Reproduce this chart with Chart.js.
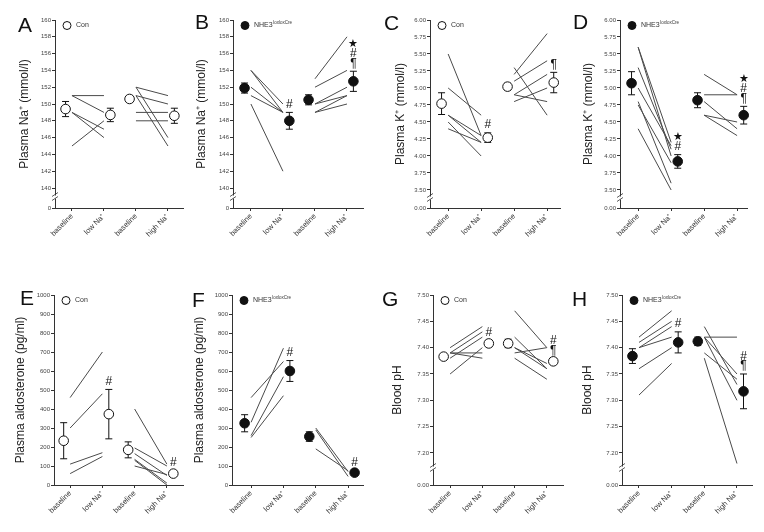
<!DOCTYPE html>
<html>
<head>
<meta charset="utf-8">
<script src="https://cdn.jsdelivr.net/npm/chart.js@4.4.0/dist/chart.umd.min.js"></script>
<style>
  body { margin: 0; background: #fff; }
  #wrap { position: relative; width: 764px; height: 532px; overflow: hidden; }
  canvas { position: absolute; }
</style>
</head>
<body>
<div id="wrap"></div>
<script>
var FONT = "'Liberation Sans', Arial, Helvetica, sans-serif";

var categories = ['baseline', 'low Na\u207A', 'baseline', 'high Na\u207A'];
var naTicks = ['140', '142', '144', '146', '148', '150', '152', '154', '156', '158', '160'];
var kTicks = ['3.50', '3.75', '4.00', '4.25', '4.50', '4.75', '5.00', '5.25', '5.50', '5.75', '6.00'];
var aldoTicks = ['0', '100', '200', '300', '400', '500', '600', '700', '800', '900', '1000'];
var phTicks = ['7.20', '7.25', '7.30', '7.35', '7.40', '7.45', '7.50'];

// A - plasma Na+, Con
var naConLow = [[151, 151], [151, 149], [149, 147], [149, 146], [145, 148]];
var naConHigh = [[152, 151], [151, 150], [152, 146], [151, 145], [149, 149], [148, 148]];
var naConMean = [149.4, 148.7, 150.6, 148.6];
var naConSem = [0.9, 0.8, 0.4, 0.9];
var naConSig = ['', '', '', ''];

// B - plasma Na+, NHE3 loxloxCre
var naKoLow = [[154, 150], [154, 149], [152, 149], [151, 149], [150, 142]];
var naKoHigh = [[153, 158], [152, 154], [150, 152], [150, 151], [149, 151], [149, 150]];
var naKoMean = [151.9, 148.0, 150.5, 152.7];
var naKoSem = [0.6, 1.0, 0.6, 1.2];
var naKoSig = ['', '#', '', '¶#★'];

// C - plasma K+, Con
var kConLow = [[5.5, 4.3], [5.0, 4.6], [4.6, 4.3], [4.6, 4.2], [4.5, 4.0], [4.4, 4.2]];
var kConHigh = [[5.2, 5.8], [5.3, 4.6], [5.1, 5.4], [4.9, 5.2], [4.9, 4.8], [4.8, 5.0]];
var kConMean = [4.77, 4.27, 5.02, 5.08];
var kConSem = [0.16, 0.07, 0.05, 0.15];
var kConSig = ['', '#', '', '¶'];

// D - plasma K+, NHE3 loxloxCre
var kKoLow = [[5.6, 4.2], [5.6, 4.0], [5.3, 4.1], [5.0, 4.15], [4.8, 3.6], [4.75, 3.9], [4.4, 3.5]];
var kKoHigh = [[5.2, 4.9], [4.9, 4.9], [4.8, 4.4], [4.6, 4.5], [4.6, 4.3]];
var kKoMean = [5.07, 3.92, 4.82, 4.60];
var kKoSem = [0.17, 0.10, 0.11, 0.13];
var kKoSig = ['', '#★', '', '¶#★'];

// E - plasma aldosterone, Con
var aldoConLow = [[460, 700], [300, 480], [110, 170], [60, 150]];
var aldoConHigh = [[400, 110], [195, 100], [165, 50], [135, 10], [130, 0], [100, 55]];
var aldoConMean = [233, 373, 185, 60];
var aldoConSem = [95, 130, 42, 15];
var aldoConSig = ['', '#', '', '#'];

// F - plasma aldosterone, NHE3 loxloxCre
var aldoKoLow = [[460, 650], [330, 720], [260, 570], [250, 470]];
var aldoKoHigh = [[300, 70], [290, 45], [190, 75]];
var aldoKoMean = [325, 600, 255, 65];
var aldoKoSem = [45, 55, 25, 8];
var aldoKoSig = ['', '#', '', '#'];

// G - blood pH, Con
var phConLow = [[7.40, 7.44], [7.39, 7.43], [7.38, 7.42], [7.39, 7.38], [7.35, 7.40], [7.39, 7.39]];
var phConHigh = [[7.47, 7.40], [7.42, 7.36], [7.40, 7.36], [7.39, 7.40], [7.40, 7.37], [7.38, 7.34]];
var phConMean = [7.383, 7.408, 7.408, 7.374];
var phConSem = [0.004, 0.006, 0.008, 0.006];
var phConSig = ['', '#', '', '¶#'];

// H - blood pH, NHE3 loxloxCre
var phKoLow = [[7.42, 7.47], [7.41, 7.45], [7.40, 7.44], [7.40, 7.42], [7.36, 7.40], [7.31, 7.37]];
var phKoHigh = [[7.42, 7.42], [7.44, 7.33], [7.42, 7.35], [7.42, 7.30], [7.39, 7.34], [7.38, 7.18]];
var phKoMean = [7.384, 7.41, 7.412, 7.317];
var phKoSem = [0.014, 0.02, 0.008, 0.033];
var phKoSig = ['', '#', '', '¶#'];

var meanShift = [-0.2, 0.2, -0.2, 0.2];

var panels = [
  { letter: 'A', left: 0, top: 0, w: 190, h: 260, pl: 17.8, yw: 37.2, pr: 7, pt: 20, xh: 52, xmin: 0.47, xmax: 4.47, lx: 18, ly: 32,
    title: 'Plasma Na\u207A (mmol/l)', ticks: naTicks, ymin: 137.62, ymax: 160, brk: '0', ko: false,
    low: naConLow, high: naConHigh, mean: naConMean, sem: naConSem, sig: naConSig },
  { letter: 'B', left: 190, top: 0, w: 190, h: 260, pl: 4.8, yw: 38.2, pr: 17, pt: 20, xh: 52, xmin: 0.44, xmax: 4.5, lx: 5, ly: 29,
    title: 'Plasma Na\u207A (mmol/l)', ticks: naTicks, ymin: 137.62, ymax: 160, brk: '0', ko: true,
    low: naKoLow, high: naKoHigh, mean: naKoMean, sem: naKoSem, sig: naKoSig },
  { letter: 'C', left: 380, top: 0, w: 190, h: 260, pl: 13.8, yw: 36.2, pr: 10, pt: 20, xh: 52, xmin: 0.45, xmax: 4.39, lx: 4, ly: 30,
    title: 'Plasma K\u207A (mmol/l)', ticks: kTicks, ymin: 3.235, ymax: 6, brk: '0.00', ko: false,
    low: kConLow, high: kConHigh, mean: kConMean, sem: kConSem, sig: kConSig },
  { letter: 'D', left: 570, top: 0, w: 194, h: 260, pl: 11.8, yw: 38.2, pr: 17, pt: 20, xh: 52, xmin: 0.45, xmax: 4.3, lx: 3, ly: 29,
    title: 'Plasma K\u207A (mmol/l)', ticks: kTicks, ymin: 3.235, ymax: 6, brk: '0.00', ko: true,
    low: kKoLow, high: kKoHigh, mean: kKoMean, sem: kKoSem, sig: kKoSig },
  { letter: 'E', left: 0, top: 260, w: 190, h: 272, pl: 13.8, yw: 40.2, pr: 7, pt: 35, xh: 47, xmin: 0.5, xmax: 4.5, lx: 20, ly: 45,
    title: 'Plasma aldosterone (pg/ml)', ticks: aldoTicks, ymin: 0, ymax: 1000, brk: null, ko: false,
    low: aldoConLow, high: aldoConHigh, mean: aldoConMean, sem: aldoConSem, sig: aldoConSig },
  { letter: 'F', left: 190, top: 260, w: 190, h: 272, pl: 2.8, yw: 39.2, pr: 17, pt: 35, xh: 47, xmin: 0.41, xmax: 4.46, lx: 2, ly: 47,
    title: 'Plasma aldosterone (pg/ml)', ticks: aldoTicks, ymin: 0, ymax: 1000, brk: null, ko: true,
    low: aldoKoLow, high: aldoKoHigh, mean: aldoKoMean, sem: aldoKoSem, sig: aldoKoSig },
  { letter: 'G', left: 380, top: 260, w: 190, h: 272, pl: 10.8, yw: 42.2, pr: 7, pt: 35, xh: 47, xmin: 0.47, xmax: 4.5, lx: 2, ly: 46,
    title: 'Blood pH', ticks: phTicks, ymin: 7.1392, ymax: 7.5, brk: '0.00', ko: false,
    low: phConLow, high: phConHigh, mean: phConMean, sem: phConSem, sig: phConSig },
  { letter: 'H', left: 570, top: 260, w: 194, h: 272, pl: 10.8, yw: 41.2, pr: 12, pt: 35, xh: 47, xmin: 0.48, xmax: 4.46, lx: 2, ly: 46,
    title: 'Blood pH', ticks: phTicks, ymin: 7.1392, ymax: 7.5, brk: '0.00', ko: true,
    low: phKoLow, high: phKoHigh, mean: phKoMean, sem: phKoSem, sig: phKoSig }
];

var wrap = document.getElementById('wrap');

function makePanel(p) {
  var canvas = document.createElement('canvas');
  canvas.width = p.w;
  canvas.height = p.h;
  canvas.style.left = p.left + 'px';
  canvas.style.top = p.top + 'px';
  wrap.appendChild(canvas);

  var labels = p.brk ? [p.brk].concat(p.ticks) : p.ticks;

  var datasets = [{
    data: p.mean.map(function (m, i) { return { x: i + 1 + meanShift[i], y: m }; }),
    showLine: false,
    pointRadius: 4.8,
    pointBackgroundColor: p.ko ? '#111' : '#fff',
    pointBorderColor: '#111',
    pointBorderWidth: 1,
    clip: false
  }];
  p.low.forEach(function (pair) {
    datasets.push({ data: [{ x: 1, y: pair[0] }, { x: 2, y: pair[1] }], borderColor: '#4a4a4a', borderWidth: 1, pointRadius: 0, clip: false });
  });
  p.high.forEach(function (pair) {
    datasets.push({ data: [{ x: 3, y: pair[0] }, { x: 4, y: pair[1] }], borderColor: '#4a4a4a', borderWidth: 1, pointRadius: 0, clip: false });
  });

  var extras = {
    id: 'extras',
    beforeDatasetsDraw: function (chart) {
      var ctx = chart.ctx, xs = chart.scales.x, ys = chart.scales.y;
      ctx.save();
      ctx.strokeStyle = '#111';
      ctx.lineWidth = 1;
      p.mean.forEach(function (m, i) {
        var x = xs.getPixelForValue(i + 1 + meanShift[i]);
        var yt = ys.getPixelForValue(m + p.sem[i]);
        var yb = ys.getPixelForValue(m - p.sem[i]);
        ctx.beginPath();
        ctx.moveTo(x, yt); ctx.lineTo(x, yb);
        ctx.moveTo(x - 3.5, yt); ctx.lineTo(x + 3.5, yt);
        ctx.moveTo(x - 3.5, yb); ctx.lineTo(x + 3.5, yb);
        ctx.stroke();
      });
      ctx.restore();
    },
    afterDraw: function (chart) {
      var ctx = chart.ctx, xs = chart.scales.x, ys = chart.scales.y, area = chart.chartArea;
      ctx.save();
      // significance symbols
      ctx.fillStyle = '#111';
      ctx.textAlign = 'center';
      ctx.textBaseline = 'middle';
      p.mean.forEach(function (m, i) {
        var x = xs.getPixelForValue(i + 1 + meanShift[i]);
        var yt = ys.getPixelForValue(m + p.sem[i]);
        Array.from(p.sig[i]).forEach(function (s, k) {
          ctx.font = (s === '★' ? '11px ' : '12px ') + FONT;
          ctx.fillText(s, x, yt - 8 - k * 9.5);
        });
      });
      // panel letter
      ctx.textAlign = 'left';
      ctx.textBaseline = 'alphabetic';
      ctx.font = '21px ' + FONT;
      ctx.fillText(p.letter, p.lx, p.ly);
      // legend
      var lx = area.left + 12, ly = area.top + 5.5;
      ctx.beginPath();
      ctx.arc(lx, ly, 4, 0, Math.PI * 2);
      ctx.fillStyle = p.ko ? '#111' : '#fff';
      ctx.fill();
      ctx.strokeStyle = '#111';
      ctx.stroke();
      ctx.fillStyle = '#333';
      ctx.textBaseline = 'middle';
      ctx.font = '7px ' + FONT;
      if (p.ko) {
        ctx.fillText('NHE3', lx + 9, ly);
        var wN = ctx.measureText('NHE3').width;
        ctx.font = '4.5px ' + FONT;
        ctx.fillText('loxloxCre', lx + 9 + wN + 0.5, ly - 2.5);
      } else {
        ctx.fillText('Con', lx + 9, ly);
      }
      // axis break
      if (p.brk) {
        var x0 = area.left;
        var yb = (ys.getPixelForValue(p.ymin) + ys.getPixelForValue(parseFloat(p.ticks[0]))) / 2 - 1;
        ctx.fillStyle = '#fff';
        ctx.fillRect(x0 - 1.5, yb - 1.5, 3, 3);
        ctx.strokeStyle = '#333';
        ctx.lineWidth = 0.8;
        ctx.beginPath();
        ctx.moveTo(x0 - 3, yb - 0.5); ctx.lineTo(x0 + 3, yb - 4.5);
        ctx.moveTo(x0 - 3, yb + 3.5); ctx.lineTo(x0 + 3, yb - 0.5);
        ctx.stroke();
      }
      ctx.restore();
    }
  };

  new Chart(canvas.getContext('2d'), {
    type: 'line',
    data: { datasets: datasets },
    options: {
      responsive: false,
      animation: false,
      events: [],
      layout: { padding: { left: p.pl, right: p.pr, top: p.pt, bottom: 0 } },
      plugins: { legend: { display: false }, tooltip: { enabled: false } },
      scales: {
        x: {
          type: 'linear',
          min: p.xmin,
          max: p.xmax,
          afterBuildTicks: function (s) {
            s.ticks = categories.map(function (c, i) { return { value: i + 1 }; });
          },
          afterFit: function (s) { s.height = p.xh; },
          ticks: {
            autoSkip: false, minRotation: 45, maxRotation: 45, padding: 1,
            color: '#333', font: { family: FONT, size: 7.5 },
            callback: function (v) { return categories[v - 1]; }
          },
          grid: { drawOnChartArea: false, tickLength: 3, color: '#333' },
          border: { color: '#333' }
        },
        y: {
          min: p.ymin,
          max: p.ymax,
          afterBuildTicks: function (s) {
            var t = p.ticks.map(function (l) { return { value: parseFloat(l) }; });
            if (p.brk) t.unshift({ value: p.ymin });
            s.ticks = t;
          },
          afterFit: function (s) { s.width = p.yw; },
          ticks: {
            padding: 1, color: '#444', font: { family: FONT, size: 6 },
            callback: function (v, i) { return labels[i]; }
          },
          grid: { drawOnChartArea: false, tickLength: 3, color: '#333' },
          border: { color: '#333' },
          title: { display: true, text: p.title, color: '#222', font: { family: FONT, size: 12 }, padding: 0 }
        }
      }
    },
    plugins: [extras]
  });
}

panels.forEach(makePanel);
</script>
</body>
</html>
